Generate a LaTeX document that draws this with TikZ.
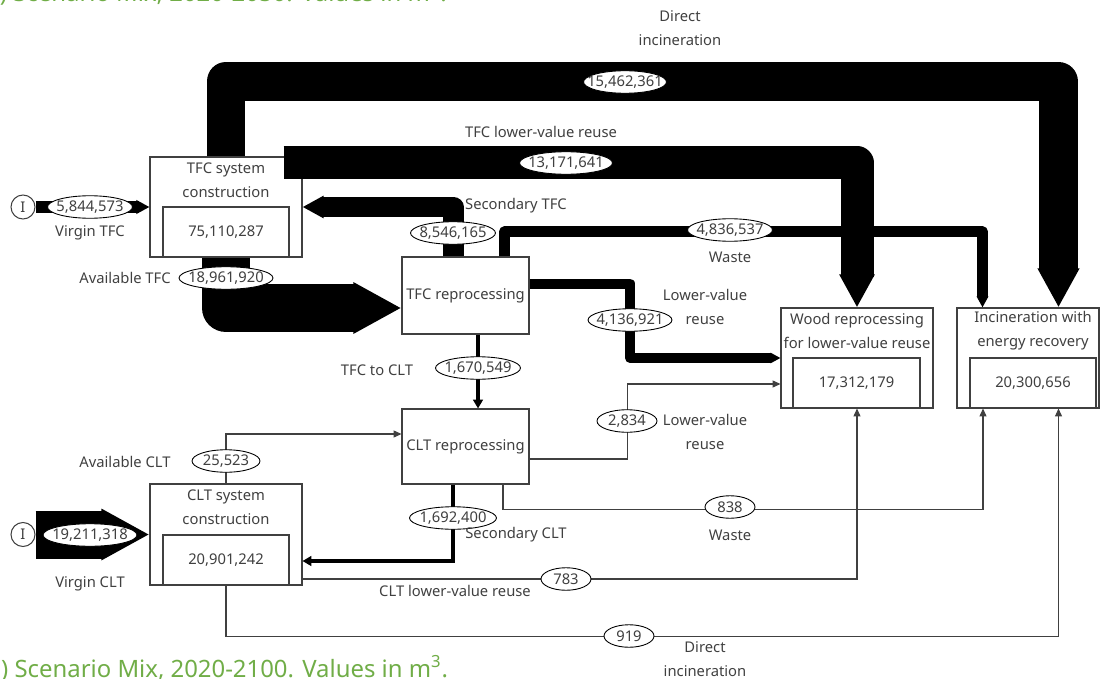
\documentclass[tikz,border=0pt]{standalone}
\usepackage{fontspec}
\setmainfont{Noto Sans}
\usetikzlibrary{arrows.meta,calc,shapes.geometric}

\definecolor{labelgray}{HTML}{404040}
\definecolor{captiongreen}{HTML}{70AD47}

\tikzset{
  lbl/.style={text=labelgray, align=center, inner sep=0pt},
  box/.style={draw=labelgray, line width=0.6pt, fill=white, inner sep=0pt, text=labelgray},
  stock/.style={box, minimum height=1cm},
  val/.style={ellipse, draw=black, line width=0.5pt, fill=white, inner sep=0pt,
    minimum height=0.45cm, minimum width=#1, text=labelgray,
    execute at begin node={\hbox to 0pt\bgroup\hss},
    execute at end node={\hss\egroup}},
  source/.style={circle, draw=labelgray, line width=0.6pt, fill=white,
    minimum size=0.48cm, inner sep=0pt, text=labelgray},
  band/.style={line width=#1, line join=round, -{Triangle[length=0pt 1, width=0pt 1]}},
  midflow/.style={line width=0.08cm, -{Triangle[length=5pt, width=5.5pt]}},
  thinflow/.style={draw=labelgray, line width=0.6pt, -{Triangle[length=4.5pt, width=4pt]}},
}

\begin{document}
\begin{tikzpicture}[x=0.02cm, y=-0.02cm,
    every node/.append style={font=\fontsize{8.4}{13.6}\selectfont}]
  \useasboundingbox (0,0) rectangle (1102,679);
  \clip (0,0) rectangle (1102,679);

  % Captions (cut by the frame)
  \node[text=captiongreen, font=\fontsize{13.6}{16}\selectfont, anchor=base west, inner sep=0pt]
    (capa) at (-21,1.5) {(a) Scenario Mix, 2020-2050. Values in m\textsuperscript{3}.};
  \node[text=captiongreen, font=\fontsize{13.6}{16}\selectfont, anchor=base west, inner sep=0pt]
    (capb) at (-21,677) {(b) Scenario Mix, 2020-2100. Values in m\textsuperscript{3}.};

  % Processes
  \node[box, minimum width=3.04cm, minimum height=2cm] (tfcsys) at (226,207) {};
  \node[stock, minimum width=2.52cm] (tfcstock) at (226,232) {75,110,287};
  \node[box, minimum width=3.04cm, minimum height=2.02cm] (cltsys) at (226,534.5) {};
  \node[stock, minimum width=2.52cm] (cltstock) at (226,560) {20,901,242};
  \node[box, minimum width=2.54cm, minimum height=1.54cm] (tfcrep) at (465.5,295.5) {TFC reprocessing};
  \node[box, minimum width=2.54cm, minimum height=1.5cm] (cltrep) at (465.5,446.5) {CLT reprocessing};
  \node[box, minimum width=3.04cm, minimum height=2cm] (woodrep) at (857,358) {};
  \node[stock, minimum width=2.54cm] (woodstock) at (856.5,383) {17,312,179};
  \node[box, minimum width=2.84cm, minimum height=2cm] (incin) at (1028,358) {};
  \node[stock, minimum width=2.52cm] (incinstock) at (1033,383) {20,300,656};

  % Sources
  \node[source] (srctfc) at (23,207) {I};
  \node[source] (srcclt) at (23,534.5) {I};

  % Thick flows
  \draw[band=0.26cm] (srctfc.east) -- (tfcsys.west);
  \draw[band=0.96cm] (srcclt.east) -- (cltsys.west);
  \draw[band=0.78cm] (tfcsys.north) -- ++(0,-75) -| ($(incin.north)+(30.5,0)$);
  \draw[band=0.66cm] ($(tfcsys.north east)+(-19,6.5)$) -| (woodrep.north);
  \draw[band=0.96cm] (tfcsys.south) |- ($(tfcrep.west)+(0,12.5)$);
  \draw[band=0.42cm] ($(tfcrep.north)+(-12.5,0)$) |- (tfcsys.east);
  \draw[band=0.22cm] ($(tfcrep.north)+(39,0)$) -- ++(0,-24.5) -| ($(incin.north)+(-45.5,0)$);
  \draw[band=0.2cm] ($(tfcrep.east)+(0,-12)$) -- ++(100.5,0) |- (woodrep.west);
  \draw[midflow] ($(tfcrep.south)+(12.5,0)$) -- ($(cltrep.north)+(12.5,0)$);
  \draw[midflow] ($(cltrep.south)+(-12.5,0)$) |- ($(cltsys.east)+(0,26.5)$);

  % Thin flows
  \draw[thinflow] (cltsys.north) |- ($(cltrep.west)+(0,-12.5)$);
  \draw[thinflow] ($(cltrep.east)+(0,12.5)$) -- ++(98,0) |- ($(woodrep.west)+(0,26)$);
  \draw[thinflow] ($(cltrep.south)+(37.5,0)$) -- ++(0,25) -| ($(incin.south)+(-45,0)$);
  \draw[thinflow] ($(cltsys.east)+(0,44.5)$) -| (woodrep.south);
  \draw[thinflow] (cltsys.south) -- ++(0,51) -| ($(incin.south)+(30.5,0)$);

  % Flow values
  \node[val=1.7cm] (vvtfc) at (90,207) {5,844,573};
  \node[val=1.88cm] (vvclt) at (90,535) {19,211,318};
  \node[val=1.66cm] (vdirtfc) at (625,82) {15,462,361};
  \node[val=1.86cm] (vlowtfc) at (566,163) {13,171,641};
  \node[val=1.88cm] (vavtfc) at (226,278) {18,961,920};
  \node[val=1.7cm] (vsectfc) at (453,233) {8,546,165};
  \node[val=1.7cm] (vwastfc) at (730,230) {4,836,537};
  \node[val=1.68cm] (vlowrep) at (630,320) {4,136,921};
  \node[val=1.7cm] (vtoclt) at (478,368) {1,670,549};
  \node[val=1.36cm] (vavclt) at (226,461) {25,523};
  \node[val=1.2cm] (vlowclt) at (627,421) {2,834};
  \node[val=1.74cm] (vsecclt) at (453,518) {1,692,400};
  \node[val=1cm] (vwasclt) at (730,507) {838};
  \node[val=1cm] (vlowcltsys) at (566,579) {783};
  \node[val=1cm] (vdirclt) at (629,636) {919};

  % Process titles
  \node[lbl] (tfcsystxt) at (226,180) {TFC system\\construction};
  \node[lbl] (cltsystxt) at (226,507.5) {CLT system\\construction};
  \node[lbl] (woodreptxt) at (857,331) {Wood reprocessing\\for lower-value reuse};
  \node[lbl] (incintxt) at (1033,331) {Incineration with\\energy recovery};

  % Flow labels
  \node[lbl] (ldirtfc) at (680,28) {Direct\\incineration};
  \node[lbl] (llowtfc) at (541,132) {TFC lower-value reuse};
  \node[lbl] (lsectfc) at (516,206) {Secondary TFC};
  \node[lbl] (lwastfc) at (730,257) {Waste};
  \node[lbl] (lvtfc) at (90,233) {Virgin TFC};
  \node[lbl] (lavtfc) at (125,278) {Available TFC};
  \node[lbl] (llowrep) at (705,307) {Lower-value\\reuse};
  \node[lbl] (ltoclt) at (377,370) {TFC to CLT};
  \node[lbl] (llowclt) at (705,432) {Lower-value\\reuse};
  \node[lbl] (lavclt) at (125,462) {Available CLT};
  \node[lbl] (lsecclt) at (516,535) {Secondary CLT};
  \node[lbl] (lwasclt) at (730,535) {Waste};
  \node[lbl] (lvclt) at (90,584) {Virgin CLT};
  \node[lbl] (llowcltsys) at (455,591) {CLT lower-value reuse};
  \node[lbl] (ldirclt) at (705,659) {Direct\\incineration};
\end{tikzpicture}
\end{document}
